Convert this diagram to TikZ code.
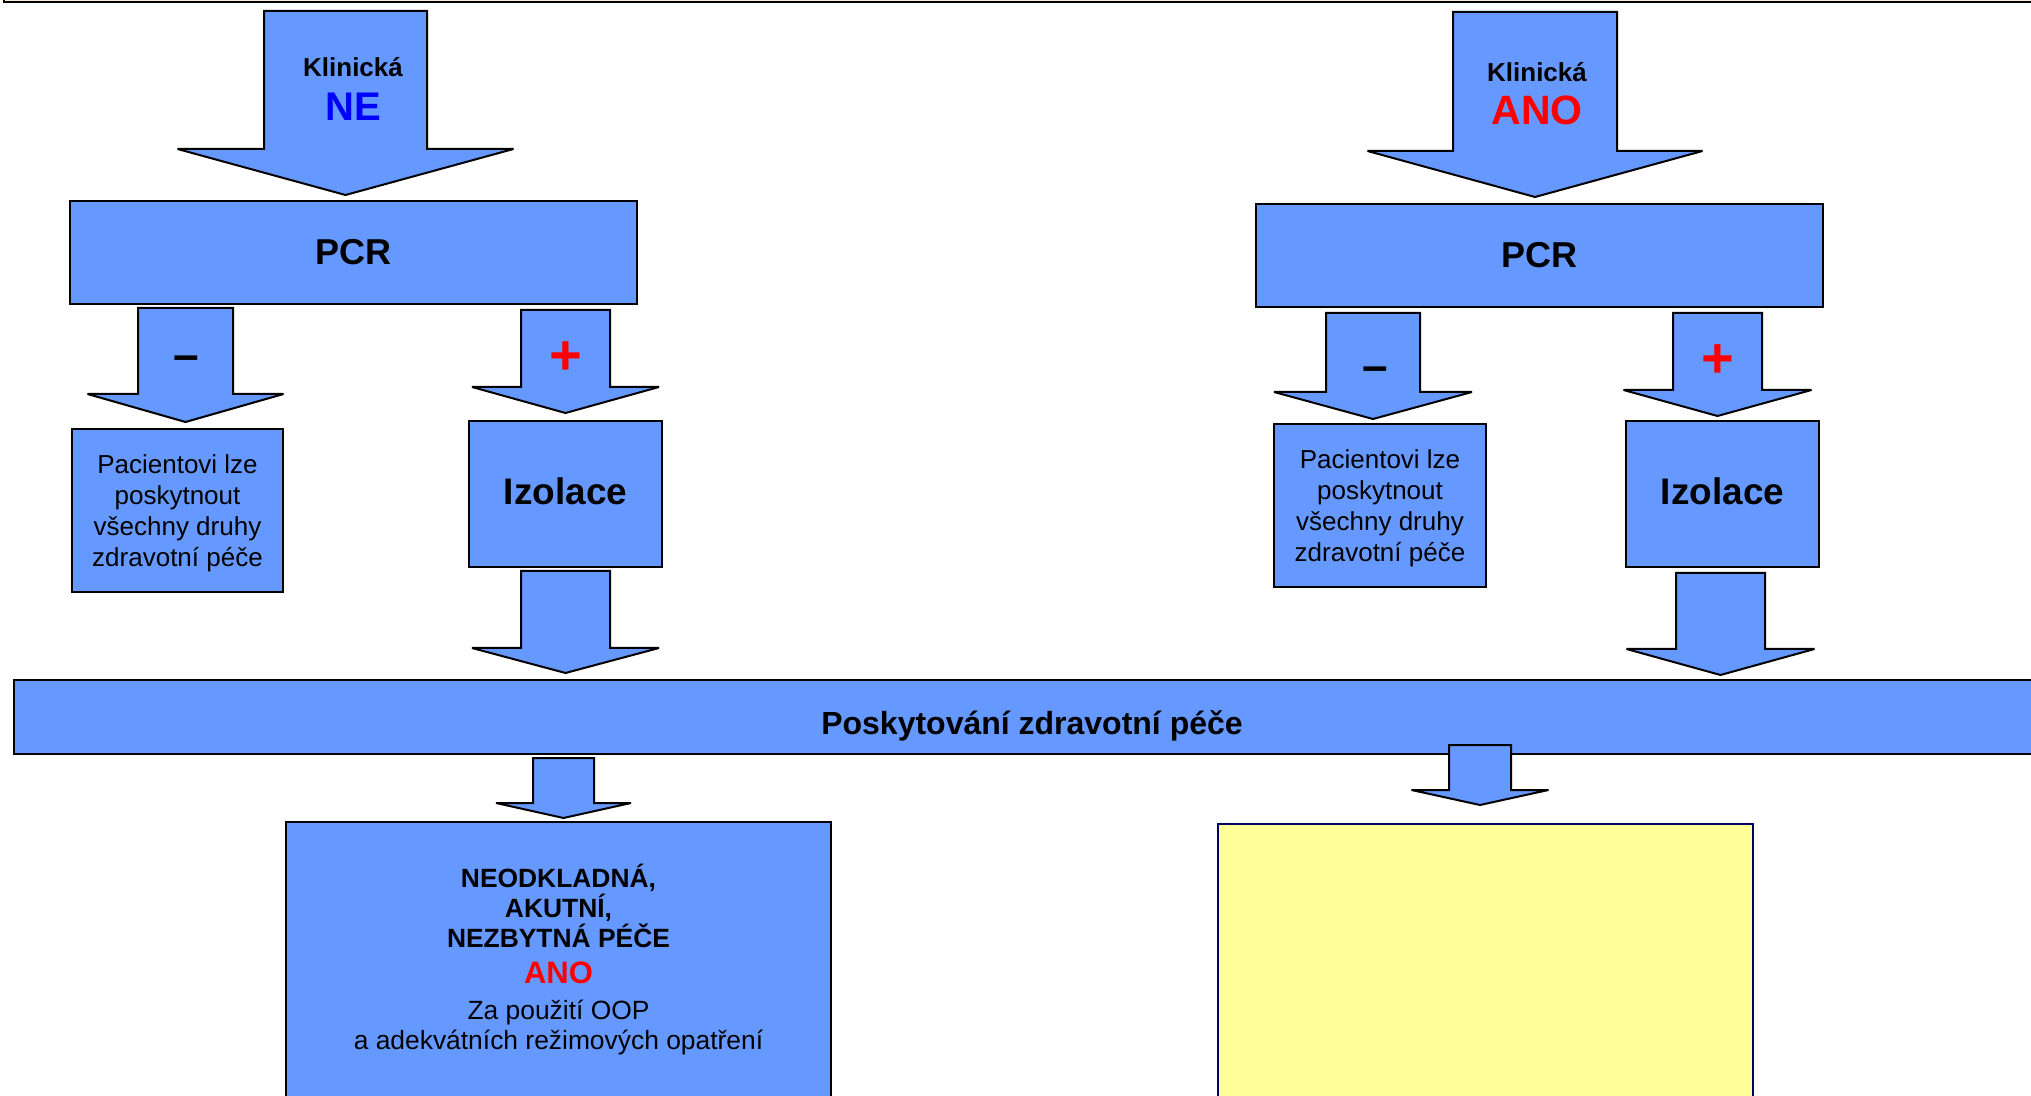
\documentclass[tikz,border=0pt]{standalone}
\usepackage{fontspec}
\setmainfont{Liberation Sans}
\definecolor{boxblue}{RGB}{102,153,255}
\definecolor{markred}{RGB}{255,0,0}
\definecolor{markblue}{RGB}{0,0,255}
\definecolor{paleyellow}{RGB}{255,255,153}
\definecolor{framebeige}{RGB}{250,236,218}
\definecolor{navyline}{RGB}{0,0,102}
\newcommand{\fsz}[2]{\fontsize{#1}{#2}\selectfont}
% block arrow: centre x, shaft half width, top, head start, head half width, tip
\newcommand{\blockarrow}[6]{%
  \draw[arrowbox] ({#1-#2},#3) -- ({#1+#2},#3) -- ({#1+#2},#4) -- ({#1+#5},#4)
    -- (#1,#6) -- ({#1-#5},#4) -- ({#1-#2},#4) -- cycle;}
\tikzset{
  bluebox/.style={draw, fill=boxblue, line width=1pt, inner sep=0pt, align=center},
  arrowbox/.style={draw, fill=boxblue, line width=1pt, line join=miter, miter limit=2},
  sign/.style={font=\fsz{#1}{#1}\bfseries, inner sep=0pt},
}
\begin{document}
\begin{tikzpicture}[x=0.5pt,y=-0.5pt]
  \useasboundingbox (0,0) rectangle (2031,1096);
  \draw[line width=1pt, fill=framebeige] (4,-20) rectangle (2050,2);
  %
  \blockarrow{345.5}{81.5}{11}{149}{168}{195}
  \blockarrow{1535}{82}{12}{151}{167.5}{197}
  \node[font=\fsz{13}{15}\bfseries] (klinNE) at (353,67) {Klinická};
  \node[font=\fsz{20}{20}\bfseries, text=markblue] (ansNE) at (353,107) {NE};
  \node[font=\fsz{13}{15}\bfseries] (klinANO) at (1537,72) {Klinická};
  \node[font=\fsz{20.5}{20}\bfseries, text=markred] (ansANO) at (1537,110) {ANO};
  %
  \node[bluebox, minimum width=283.5pt, minimum height=51.5pt, font=\fsz{18}{20}\bfseries]
    (pcrL) at (353.5,252.5) {PCR};
  \node[bluebox, minimum width=283.5pt, minimum height=51.5pt, font=\fsz{18}{20}\bfseries]
    (pcrR) at (1539.5,255.5) {PCR};
  %
  \blockarrow{185.5}{47.5}{308}{394}{98}{422}
  \blockarrow{565.5}{44.5}{310}{387}{93.5}{413}
  \blockarrow{1373}{47}{313}{392}{99}{419}
  \blockarrow{1717.5}{44.5}{313}{390}{94}{416}
  \node[sign=23] (negL) at (186,363) {–};
  \node[sign=28, text=markred] (posL) at (566,358) {+};
  \node[sign=23] (negR) at (1375,374) {–};
  \node[sign=28, text=markred] (posR) at (1718,361) {+};
  %
  \node[bluebox, minimum width=105.5pt, minimum height=81.5pt, font=\fsz{13}{15.5}, text depth=0pt]
    (pacL) at (177.5,510.5) {Pacientovi lze\\poskytnout\\všechny druhy\\zdravotní péče};
  \node[bluebox, minimum width=96.5pt, minimum height=73pt, font=\fsz{18.5}{20}\bfseries, text depth=3pt]
    (izoL) at (565.5,494) {Izolace};
  \node[bluebox, minimum width=106pt, minimum height=81.5pt, font=\fsz{13}{15.5}, text depth=0pt]
    (pacR) at (1380,505.5) {Pacientovi lze\\poskytnout\\všechny druhy\\zdravotní péče};
  \node[bluebox, minimum width=96.5pt, minimum height=73pt, font=\fsz{18.5}{20}\bfseries, text depth=3pt]
    (izoR) at (1722.5,494) {Izolace};
  %
  \blockarrow{565.5}{44.5}{571}{648}{93.5}{673}
  \blockarrow{1720.5}{44.5}{573}{649}{94}{675}
  \node[bluebox, minimum width=1018pt, minimum height=37pt, font=\fsz{16}{18}\bfseries,
    text height=21pt, text depth=3.5pt]
    (care) at (1032,717) {Poskytování zdravotní péče};
  \blockarrow{563.5}{30.5}{758}{803}{67.5}{818}
  \blockarrow{1480}{31}{745}{790}{68.5}{805}
  %
  \node[bluebox, minimum width=272.5pt, minimum height=138pt, font=\fsz{13.2}{15}]
    (urgent) at (558.5,960) {\bfseries NEODKLADNÁ,\\\bfseries AKUTNÍ,\\\bfseries NEZBYTNÁ PÉČE\\[3pt]
    {\fsz{15.5}{15}\bfseries\color{markred}ANO}\\[3pt]Za použití OOP\\a adekvátních režimových opatření};
  \node[draw=navyline, fill=paleyellow, line width=0.6pt, minimum width=267.5pt, minimum height=138pt]
    (other) at (1485.5,962) {};
\end{tikzpicture}
\end{document}
